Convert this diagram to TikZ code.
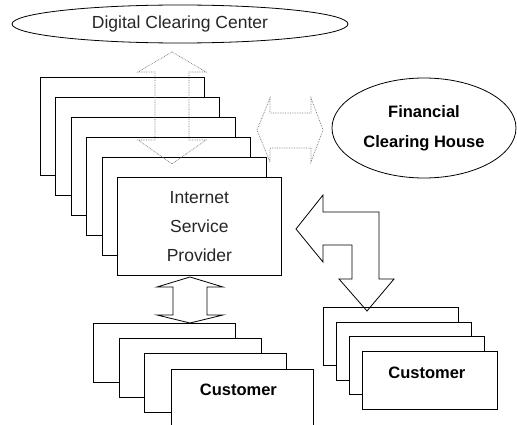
\documentclass[tikz,border=0pt]{standalone}
\usepackage{fontspec}
\setmainfont{Liberation Sans}
\usetikzlibrary{shapes.geometric}
\tikzset{
  line/.style={draw=black, line width=0.8pt},
  card/.style={line, fill=white, rectangle, anchor=north west, inner sep=0pt},
  ispcard/.style={card, minimum width=164pt, minimum height=98pt},
  rcard/.style={card, minimum width=135pt, minimum height=58pt},
  lcard/.style={card, minimum width=142pt, minimum height=59pt},
  oval/.style={line, ellipse, inner sep=0pt},
  dotarrow/.style={draw=black!55, densely dotted, line width=0.7pt},
  solidarrow/.style={line, line join=miter},
  lighttext/.style={font=\fontsize{17.5}{29}\selectfont, text=black!85},
  boldtext/.style={font=\fontsize{16.5}{30}\selectfont\bfseries},
}
\begin{document}
\begin{tikzpicture}[x=1pt, y=-1pt]
\useasboundingbox (0,0) rectangle (517,425);

% Digital Clearing Center
\node[oval, minimum width=336pt, minimum height=38pt, lighttext] (dcc) at (180,24)
  {\raisebox{-4pt}{Digital Clearing Center}};

% Financial Clearing House
\node[oval, minimum width=184pt, minimum height=100pt, boldtext, align=center] (fch) at (424,128)
  {Financial\\Clearing House};

% ISP stack
\node[ispcard] (isp1) at (40,77) {};
\node[ispcard] (isp2) at (55.4,97) {};
\node[ispcard] (isp3) at (70.8,117) {};
\node[ispcard] (isp4) at (86.2,137) {};
\node[ispcard] (isp5) at (101.6,157) {};
\node[ispcard, lighttext, align=center] (isp6) at (117,177) {\raisebox{-6pt}{\parbox{160pt}{\centering Internet\\Service\\Provider}}};

% right customer stack
\node[rcard] (cr1) at (323,307) {};
\node[rcard] (cr2) at (336,321.5) {};
\node[rcard] (cr3) at (349,336) {};
\node[rcard] (cr4) at (362,351) {};
\node[boldtext] (crt) at ([xshift=-3pt,yshift=-22pt]cr4.north) {Customer};

% left customer stack
\node[lcard] (cl1) at (93,323) {};
\node[lcard] (cl2) at (119,338) {};
\node[lcard] (cl3) at (144,353) {};
\node[lcard] (cl4) at (171,369) {};
\node[boldtext] (clt) at ([xshift=-4pt,yshift=-21pt]cl4.north) {Customer};

% dotted vertical double arrow (DCC <-> ISP)
\draw[dotarrow] (172,52) -- (206,72) -- (189,72) -- (189,140) -- (206,140) -- (172,164)
  -- (138,140) -- (155,140) -- (155,72) -- (138,72) -- cycle;

% dotted horizontal double arrow (ISP <-> FCH)
\draw[dotarrow] (257,130) -- (270,98) -- (270,113) -- (311,113) -- (311,98) -- (323,130)
  -- (311,162) -- (311,148) -- (270,148) -- (270,162) -- cycle;

% bent arrow (ISP <-> right customers)
\draw[solidarrow] (296,229) -- (323,195) -- (323,212) -- (379,212) -- (379,279) -- (394,279)
  -- (367,311) -- (339,279) -- (352,279) -- (352,245) -- (323,245) -- (323,262) -- cycle;

% vertical double arrow (ISP <-> left customers)
\draw[solidarrow] (190,277) -- (223,287) -- (207,287) -- (207,315) -- (223,315) -- (190,323)
  -- (157,315) -- (173,315) -- (173,287) -- (157,287) -- cycle;
\end{tikzpicture}
\end{document}
